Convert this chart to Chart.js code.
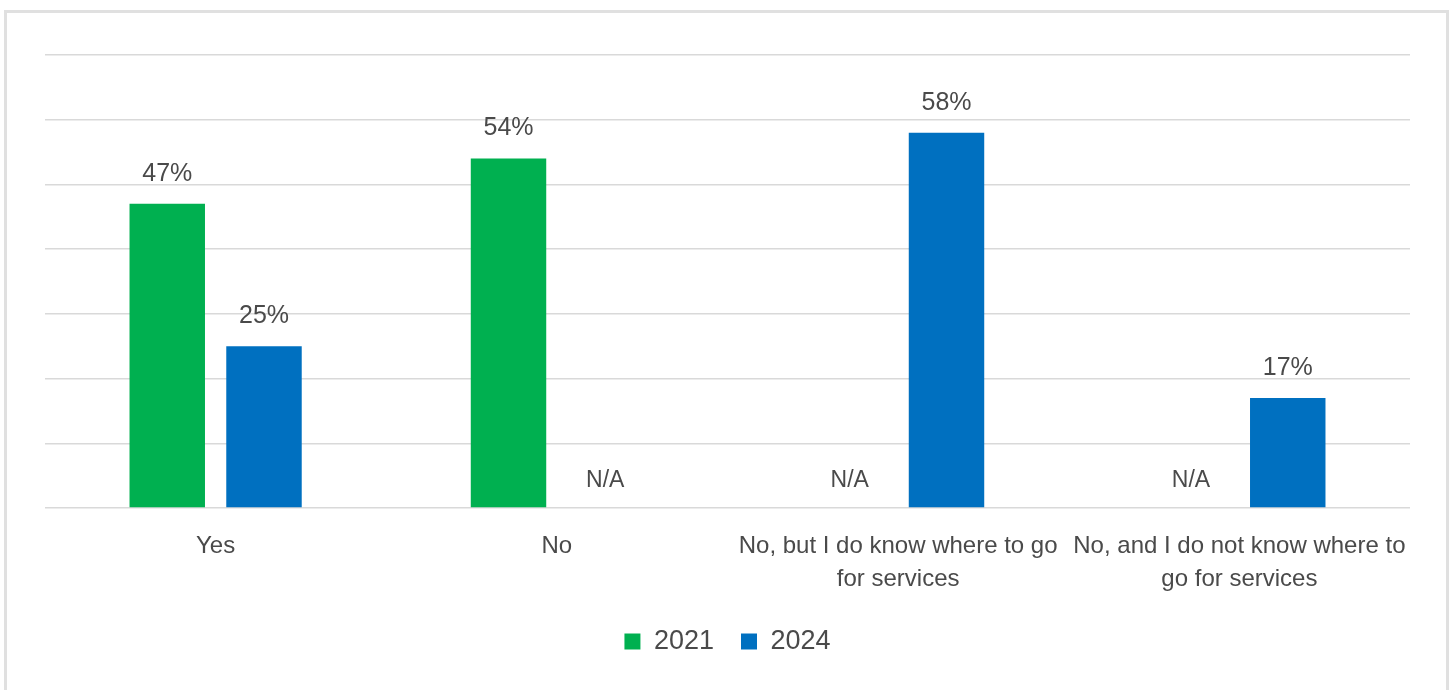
<!DOCTYPE html>
<html>
<head>
<meta charset="utf-8">
<script src="https://cdn.jsdelivr.net/npm/chart.js@4"></script>
<style>
  html, body { margin: 0; padding: 0; background: #fff; }
  #frame {
    position: absolute; left: 4px; top: 10px; width: 1439px; height: 700px;
    border: 3px solid #e0e0e0; border-bottom: none;
  }
  #wrap { position: absolute; left: 0; top: 0; width: 1453px; height: 690px; }
</style>
</head>
<body>
<div id="frame"></div>
<div id="wrap"><canvas id="surveyChart"></canvas></div>
<script>
// answers and the two survey years
const categories = [
    'Yes',
    'No',
    ['No, but I do know where to go', 'for services'],
    ['No, and I do not know where to', 'go for services']
];
const values2021 = [47, 54, null, null];
const values2024 = [25, null, 58, 17];
const yTicks = [0, 10, 20, 30, 40, 50, 60, 70];

const GREEN = '#00b050';
const BLUE = '#0070c0';
const TEXT = '#4a4a4a';

// percent above each bar, "N/A" where a year has no answer option
const valueLabels = {
    id: 'valueLabels',
    afterDatasetsDraw(chart) {
        const ctx = chart.ctx;
        const yScale = chart.scales.y;
        ctx.save();
        ctx.font = '25px "Liberation Sans", Arial, sans-serif';
        ctx.fillStyle = TEXT;
        ctx.textAlign = 'center';
        ctx.textBaseline = 'middle';
        chart.data.datasets.forEach((ds, di) => {
            const meta = chart.getDatasetMeta(di);
            meta.data.forEach((bar, i) => {
                const v = ds.data[i];
                if (v === null) {
                    ctx.font = '23px "Liberation Sans", Arial, sans-serif';
                    ctx.fillText('N/A', bar.x, yScale.getPixelForValue(0) - 27);
                    ctx.font = '25px "Liberation Sans", Arial, sans-serif';
                } else {
                    ctx.fillText(v + '%', bar.x, bar.y - 30);
                }
            });
        });
        ctx.restore();
    }
};

const ctx = document.getElementById('surveyChart').getContext('2d');
const surveyChart = new Chart(ctx, {
    type: 'bar',
    data: {
        labels: categories,
        datasets: [
            { label: '2021', data: values2021, backgroundColor: GREEN },
            { label: '2024', data: values2024, backgroundColor: BLUE }
        ]
    },
    options: {
        responsive: true,
        maintainAspectRatio: false,
        animation: false,
        categoryPercentage: 0.567,
        barPercentage: 0.78,
        layout: { padding: { left: 45, right: 43, top: 55, bottom: 25 } },
        plugins: {
            tooltip: { enabled: false },
            legend: {
                position: 'bottom',
                labels: {
                    boxWidth: 16,
                    boxHeight: 16,
                    padding: 27,
                    color: TEXT,
                    font: { size: 27, family: '"Liberation Sans", Arial, sans-serif' }
                }
            }
        },
        scales: {
            x: {
                grid: { display: false, drawTicks: false },
                border: { display: false },
                ticks: {
                    color: TEXT,
                    padding: 22,
                    maxRotation: 0,
                    autoSkip: false,
                    font: { size: 24, family: '"Liberation Sans", sans-serif', lineHeight: 1.38 }
                },
                afterFit(scale) { scale.height = 93; }
            },
            y: {
                min: 0,
                max: 70,
                afterBuildTicks(scale) { scale.ticks = yTicks.map(v => ({ value: v })); },
                grid: { color: '#d9d9d9', lineWidth: 1.5, drawTicks: false },
                border: { display: false },
                ticks: { display: false }
            }
        }
    },
    plugins: [valueLabels]
});
</script>
</body>
</html>
